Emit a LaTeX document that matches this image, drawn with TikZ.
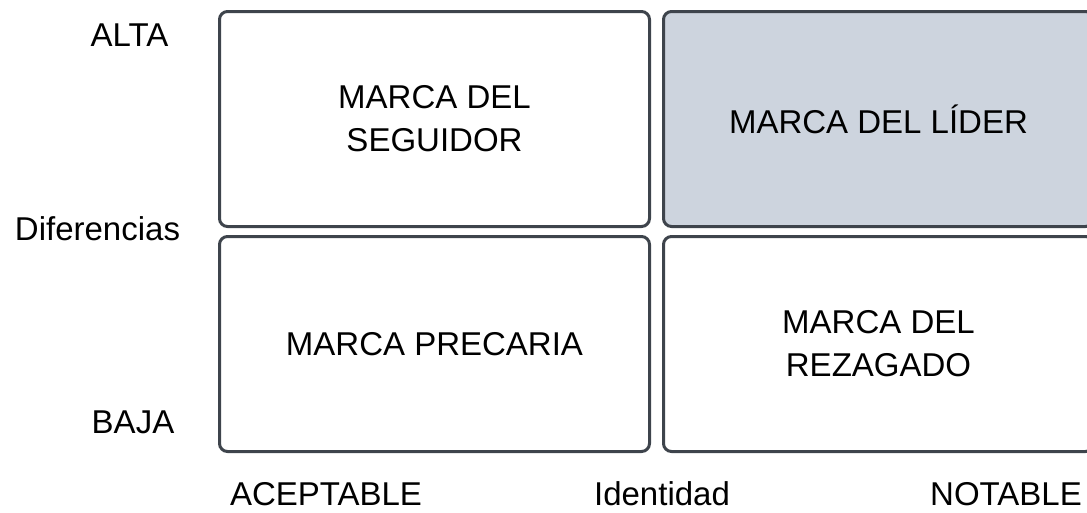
\documentclass[tikz,border=0pt]{standalone}
\usepackage{fontspec}
\setmainfont{Liberation Sans}
\usetikzlibrary{positioning}
\definecolor{marco}{RGB}{62,68,76}
\definecolor{lider}{RGB}{205,212,222}

\begin{document}
\begin{tikzpicture}[x=1pt,y=-1pt]
			\useasboundingbox (0,0) rectangle (1087,512);
			\clip (0,0) rectangle (1087,512);
			\begin{scope}[every node/.style={draw=marco,line width=3pt,rounded corners=8pt,
				minimum width=430pt,minimum height=215pt,inner sep=0pt,align=center,
				font=\fontsize{33}{43}\selectfont}]
				\node (seguidor) at (434.5,119) {MARCA DEL\\SEGUIDOR};
				\node[fill=lider] (lider) at (878.5,119) {MARCA DEL LÍDER};
				\node (precaria) at (434.5,344) {MARCA PRECARIA};
				\node (rezagado) at (878.5,344) {MARCA DEL\\REZAGADO};
			\end{scope}

			\begin{scope}[every node/.style={anchor=base,inner sep=0pt,font=\fontsize{33}{40}\selectfont}]
				\node (alta) at (129.5,46) {ALTA};
				\node (diferencias) at (97.5,240) {Diferencias};
				\node (baja) at (133,433) {BAJA};
				\node (aceptable) at (326,505) {ACEPTABLE};
				\node (identidad) at (662,505) {Identidad};
				\node (notable) at (1006,505) {NOTABLE};
			\end{scope}
		\end{tikzpicture}
\end{document}
